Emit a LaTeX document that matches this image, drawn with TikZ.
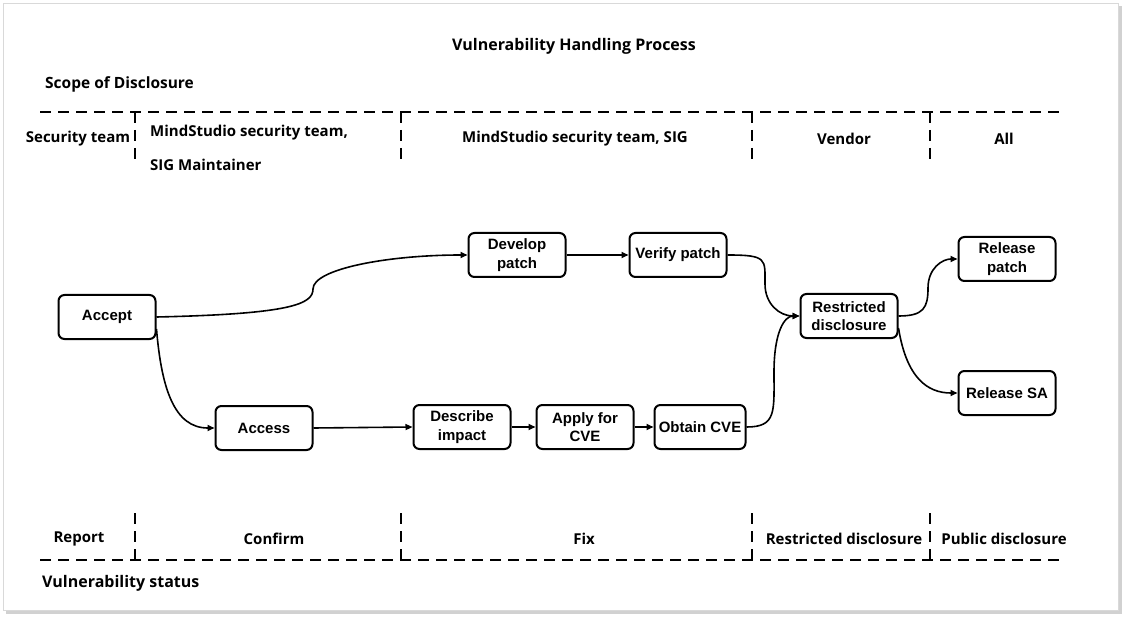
\documentclass[tikz,border=0pt]{standalone}
\usepackage{fontspec}
\setmainfont{Liberation Sans}
\newfontfamily\headfont{Open Sans}
\usetikzlibrary{arrows.meta}
\begin{document}
\begin{tikzpicture}[x=1pt,y=-1pt,
  stepbox/.style={draw, line width=2pt, rounded corners=6pt, minimum width=97pt, minimum height=44pt, align=center, font=\fontsize{15}{18.5}\selectfont\bfseries, inner sep=1pt},
  head/.style={font=\headfont\fontsize{15}{17}\selectfont\bfseries, inner sep=0pt},
  bighead/.style={font=\headfont\fontsize{16}{18}\selectfont\bfseries, inner sep=0pt},
  dline/.style={line width=2pt, dash pattern=on 11pt off 7pt},
  conn/.style={line width=1.6pt, -{Triangle[length=7pt,width=6pt]}}]
\useasboundingbox (0,0) rectangle (1123,617);
% frame with shadow
\fill[black!18] (6,6) rectangle (1122,614);
\fill[white, draw=black!15, line width=0.8pt] (3,3) rectangle (1118,610);

% headings
\node[bighead] (title) at (574,46) {Vulnerability Handling Process};
\node[head, anchor=west, font=\headfont\fontsize{15.5}{17}\selectfont\bfseries] (scope) at (45,84) {Scope of Disclosure};
\node[bighead, anchor=west] (vstat) at (42,583) {Vulnerability status};

% top dashed structure
\coordinate (tl) at (40,112);
\coordinate (tr) at (1060,112);
\draw[dline] (tl) -- (tr);
\foreach \x/\n in {135/a,401/b,752/c,930/d}{
  \coordinate (t\n1) at (\x,112);
  \coordinate (t\n2) at (\x,160);
  \draw[dline] (t\n1) -- (t\n2);
}
\node[head] (s1) at (78,139) {Security team};
\node[head, anchor=west] (s2a) at (150,133) {MindStudio security team,};
\node[head, anchor=west] (s2b) at (150,165) {SIG Maintainer};
\node[head] (s3) at (575,139) {MindStudio security team, SIG};
\node[head] (s4) at (844,139) {Vendor};
\node[head] (s5) at (1004,139) {All};

% bottom dashed structure
\coordinate (bl) at (40,560);
\coordinate (br) at (1060,560);
\draw[dline] (bl) -- (br);
\foreach \x/\n in {135/a,401/b,752/c,930/d}{
  \coordinate (b\n1) at (\x,513);
  \coordinate (b\n2) at (\x,560);
  \draw[dline] (b\n1) -- (b\n2);
}
\node[head] (p1) at (79,539) {Report};
\node[head] (p2) at (274,539) {Confirm};
\node[head] (p3) at (584,539) {Fix};
\node[head] (p4) at (844,539) {Restricted disclosure};
\node[head] (p5) at (1004,539) {Public disclosure};

% process boxes
\node[stepbox] (accept) at (107,317) {\raisebox{-4pt}{Accept}};
\node[stepbox] (access) at (264,428) {\raisebox{-2pt}{Access}};
\node[stepbox] (describe) at (462,427) {Describe\\impact};
\node[stepbox] (apply) at (585,427) {Apply for\\CVE};
\node[stepbox, minimum width=91pt] (obtain) at (700,427) {Obtain CVE};
\node[stepbox] (develop) at (517,255) {Develop\\patch};
\node[stepbox] (verify) at (678,255) {Verify patch};
\node[stepbox] (restricted) at (849,316) {Restricted\\disclosure};
\node[stepbox] (relpatch) at (1007,259) {Release\\patch};
\node[stepbox] (relsa) at (1007,393) {\raisebox{-3pt}{Release SA}};

% connectors
\draw[conn] (accept.east) .. controls +(135,-3) and +(0,15) .. (313,289)
  .. controls +(0,-20) and +(-80,0) .. (develop.west);
\draw[conn] ([yshift=-12pt]accept.east) .. controls +(5,60) and +(-40,0) .. (access.west);
\draw[conn] (access.east) -- (describe.west);
\draw[conn] (describe.east) -- (apply.west);
\draw[conn] (apply.east) -- (obtain.west);
\draw[conn] (develop.east) -- (verify.west);
\draw[conn] (verify.east) .. controls +(40,0) and +(0,-25) .. (765,284)
  .. controls +(0,20) and +(-20,0) .. (restricted.west);
\draw[conn] (obtain.east) .. controls +(30,0) and +(0,40) .. (774,372)
  .. controls +(0,-40) and +(-15,0) .. (restricted.west);
\draw[conn] (restricted.east) .. controls +(25,0) and +(0,20) .. (928,288)
  .. controls +(0,-20) and +(-15,0) .. (relpatch.west);
\draw[conn] ([yshift=-12pt]restricted.east) .. controls +(8,50) and +(-30,0) .. (relsa.west);
\end{tikzpicture}
\end{document}
